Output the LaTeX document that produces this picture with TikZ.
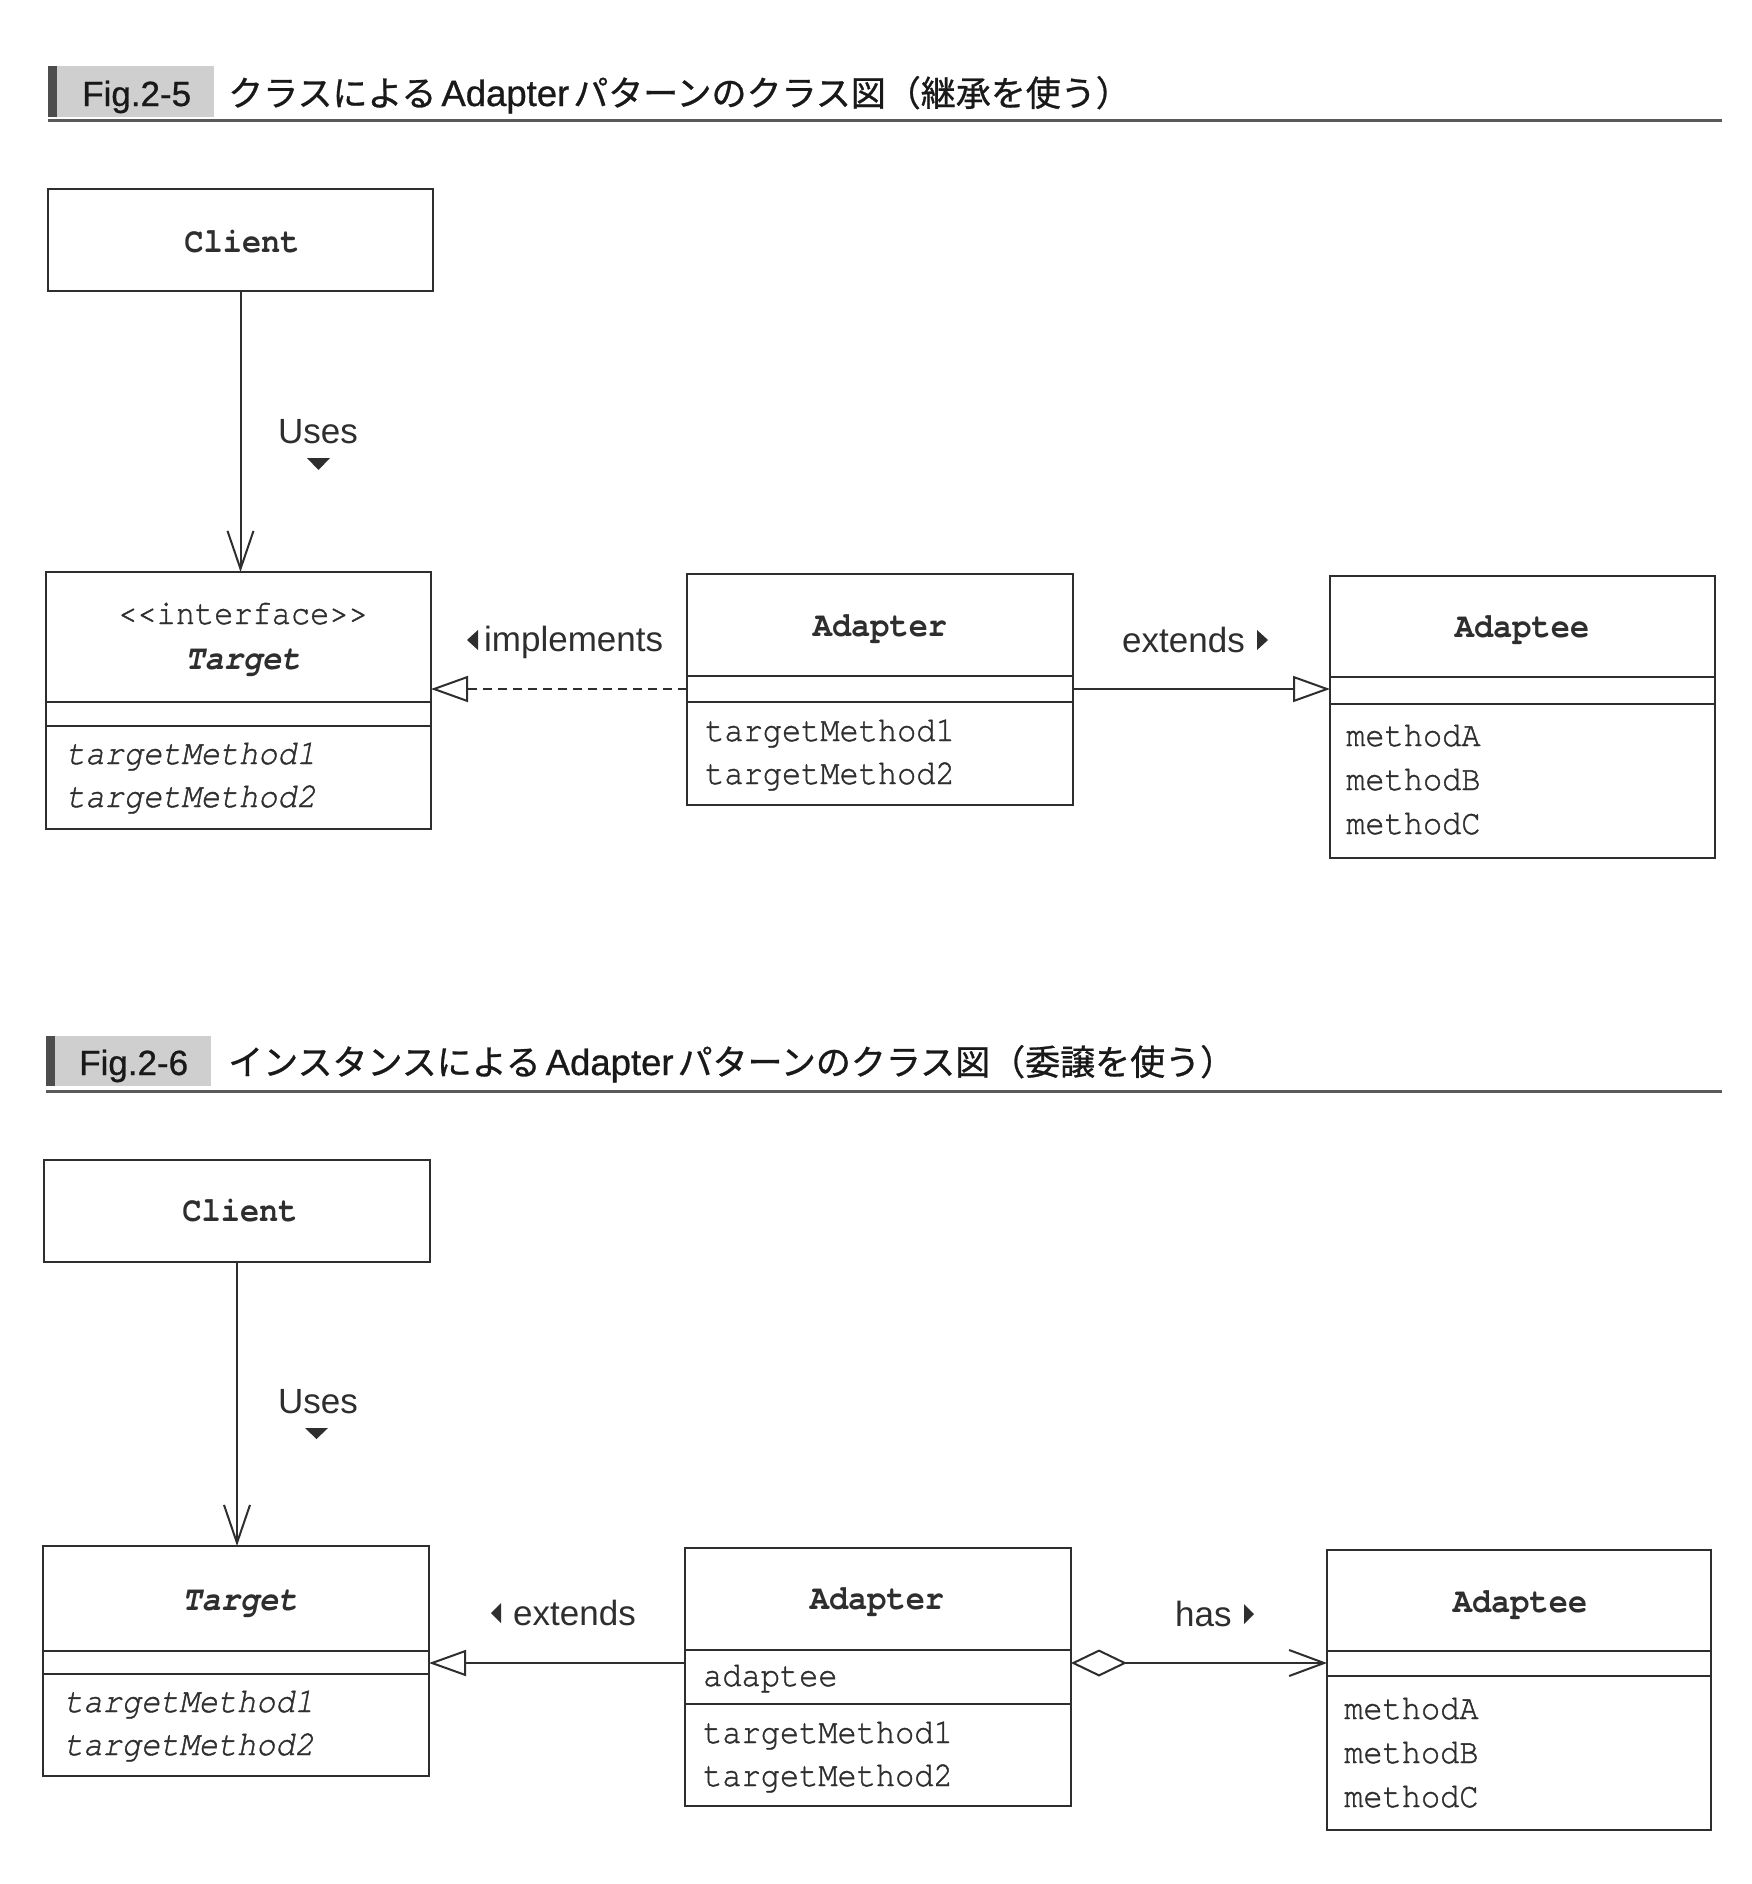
\documentclass[tikz,border=0pt]{standalone}
\usepackage{fontspec}
\setmainfont{Liberation Sans}
\newfontfamily\cjk[FakeBold=0.8]{Noto Sans CJK JP}
\newfontfamily\hdrsans[FakeBold=0.8]{Liberation Sans}
\newfontfamily\cour[FakeStretch=0.914, FakeBold=1.2]{TeX Gyre Cursor}
\newfontfamily\courbold[FakeStretch=0.914]{TeX Gyre Cursor}
\usetikzlibrary{arrows.meta}
\definecolor{ink}{HTML}{2E2E2E}
\definecolor{hdrgray}{HTML}{CFCFCF}
\definecolor{hdrdark}{HTML}{4D4D4D}
\definecolor{rulegray}{HTML}{5A5A5A}
\begin{document}
\begin{tikzpicture}[x=1pt,y=-1pt,
  classbox/.style={draw=ink, line width=2pt, anchor=north west, inner sep=0pt, outer sep=0pt},
  divider/.style={draw=ink, line width=2pt},
  cname/.style={font=\fontsize{35}{40}\selectfont\courbold\bfseries, text=ink, anchor=base, inner sep=0pt},
  cnamei/.style={font=\fontsize{35}{40}\selectfont\courbold\bfseries\itshape, text=ink, anchor=base, inner sep=0pt},
  stereo/.style={font=\fontsize{35}{40}\selectfont\cour, text=ink, anchor=base, inner sep=0pt},
  member/.style={font=\fontsize{35}{40}\selectfont\cour, text=ink, anchor=base west, inner sep=0pt},
  memberi/.style={font=\fontsize{35}{40}\selectfont\cour\itshape, text=ink, anchor=base west, inner sep=0pt},
  lbl/.style={font=\fontsize{35}{40}\selectfont, text=ink, anchor=base west, inner sep=0pt},
  hdr/.style={font=\fontsize{35}{42}\selectfont\hdrsans, text=black!90, anchor=base west, inner sep=0pt},
  rule/.style={draw=rulegray, line width=3pt},
  conn/.style={draw=ink, line width=2pt},
  uses/.style={conn, -{Straight Barb[length=38pt, width=26pt]}},
  inherit/.style={conn, -{Triangle[open, length=37pt, width=26pt]}},
  realize/.style={inherit, dash pattern=on 9pt off 6pt},
  aggr/.style={conn, {Diamond[open, length=56pt, width=27pt]}-{Straight Barb[length=35pt, width=26pt]}}
]
\useasboundingbox (0,0) rectangle (1752,1884);
\fill[white] (0,0) rectangle (1752,1884);

% ---------- Fig.2-5 header ----------
\fill[hdrgray] (48,66) rectangle (214,117);
\fill[hdrdark] (48,66) rectangle (57,117);
\draw[rule] (48,120) -- (1722,120);
\node[hdr] (fig25) at (82,106) {Fig.2-5};
\node[hdr] (title25) at (228,106) {{\cjk クラスによる}\hspace{5pt}{\fontsize{36.5}{40}\selectfont Adapter}\hspace{4pt}{\cjk パターンのクラス図（継承を使う）}};

% ---------- Fig.2-5 classes ----------
\node[classbox, minimum width=385pt, minimum height=102pt] (client1) at (48,189) {};
\node[cname] (client1n) at (242,252) {Client};

\node[classbox, minimum width=385pt, minimum height=257pt] (target1) at (46,572) {};
\draw[divider] ([yshift=-130pt]target1.north west) -- ([yshift=-130pt]target1.north east);
\draw[divider] ([yshift=-154pt]target1.north west) -- ([yshift=-154pt]target1.north east);
\node[stereo] (target1s) at (243,624) {<\kern0pt<interface>\kern0pt>};
\node[cnamei] (target1n) at (243,669) {Target};
\node[memberi] (target1m1) at (66,764) {targetMethod1};
\node[memberi] (target1m2) at (66,807) {targetMethod2};

\node[classbox, minimum width=386pt, minimum height=231pt] (adapter1) at (687,574) {};
\draw[divider] ([yshift=-102pt]adapter1.north west) -- ([yshift=-102pt]adapter1.north east);
\draw[divider] ([yshift=-128pt]adapter1.north west) -- ([yshift=-128pt]adapter1.north east);
\node[cname] (adapter1n) at (880,636) {Adapter};
\node[member] (adapter1m1) at (705,741) {targetMethod1};
\node[member] (adapter1m2) at (705,784) {targetMethod2};

\node[classbox, minimum width=385pt, minimum height=282pt] (adaptee1) at (1330,576) {};
\draw[divider] ([yshift=-101pt]adaptee1.north west) -- ([yshift=-101pt]adaptee1.north east);
\draw[divider] ([yshift=-128pt]adaptee1.north west) -- ([yshift=-128pt]adaptee1.north east);
\node[cname] (adaptee1n) at (1522,637) {Adaptee};
\node[member] (adaptee1m1) at (1346,746) {methodA};
\node[member] (adaptee1m2) at (1346,790) {methodB};
\node[member] (adaptee1m3) at (1346,834) {methodC};

% ---------- Fig.2-5 connectors ----------
\coordinate (r1) at (0,689);
\draw[uses] (client1.south) -- (client1.south |- target1.north);
\draw[realize] (adapter1.west |- r1) -- (target1.east |- r1);
\draw[inherit] (adapter1.east |- r1) -- (adaptee1.west |- r1);

\node[lbl] (uses1) at (278,443) {Uses};
\fill[ink] (307,458) -- (330,458) -- (318.5,470) -- cycle;
\node[lbl] (impl1) at (484,651) {implements};
\fill[ink] (478,630) -- (478,650) -- (467,640) -- cycle;
\node[lbl] (ext1) at (1122,652) {extends};
\fill[ink] (1257,630) -- (1257,650) -- (1268,640) -- cycle;

% ---------- Fig.2-6 header ----------
\fill[hdrgray] (46,1036) rectangle (211,1086);
\fill[hdrdark] (46,1036) rectangle (55,1086);
\draw[rule] (46,1091) -- (1722,1091);
\node[hdr] (fig26) at (79,1075) {Fig.2-6};
\node[hdr] (title26) at (228,1075) {{\cjk インスタンスによる}\hspace{5pt}{\fontsize{36.5}{40}\selectfont Adapter}\hspace{4pt}{\cjk パターンのクラス図（委譲を使う）}};

% ---------- Fig.2-6 classes ----------
\node[classbox, minimum width=386pt, minimum height=102pt] (client2) at (44,1160) {};
\node[cname] (client2n) at (240,1221) {Client};

\node[classbox, minimum width=386pt, minimum height=230pt] (target2) at (43,1546) {};
\draw[divider] ([yshift=-105pt]target2.north west) -- ([yshift=-105pt]target2.north east);
\draw[divider] ([yshift=-128pt]target2.north west) -- ([yshift=-128pt]target2.north east);
\node[cnamei] (target2n) at (240,1610) {Target};
\node[memberi] (target2m1) at (64,1712) {targetMethod1};
\node[memberi] (target2m2) at (64,1755) {targetMethod2};

\node[classbox, minimum width=386pt, minimum height=258pt] (adapter2) at (685,1548) {};
\draw[divider] ([yshift=-102pt]adapter2.north west) -- ([yshift=-102pt]adapter2.north east);
\draw[divider] ([yshift=-156pt]adapter2.north west) -- ([yshift=-156pt]adapter2.north east);
\node[cname] (adapter2n) at (877,1609) {Adapter};
\node[member] (adapter2a) at (703,1686) {adaptee};
\node[member] (adapter2m1) at (703,1743) {targetMethod1};
\node[member] (adapter2m2) at (703,1786) {targetMethod2};

\node[classbox, minimum width=384pt, minimum height=280pt] (adaptee2) at (1327,1550) {};
\draw[divider] ([yshift=-101pt]adaptee2.north west) -- ([yshift=-101pt]adaptee2.north east);
\draw[divider] ([yshift=-126pt]adaptee2.north west) -- ([yshift=-126pt]adaptee2.north east);
\node[cname] (adaptee2n) at (1520,1612) {Adaptee};
\node[member] (adaptee2m1) at (1344,1719) {methodA};
\node[member] (adaptee2m2) at (1344,1763) {methodB};
\node[member] (adaptee2m3) at (1344,1807) {methodC};

% ---------- Fig.2-6 connectors ----------
\coordinate (r2) at (0,1663);
\draw[uses] (client2.south) -- (client2.south |- target2.north);
\draw[inherit] (adapter2.west |- r2) -- (target2.east |- r2);
\draw[aggr] (adapter2.east |- r2) -- (adaptee2.west |- r2);

\node[lbl] (uses2) at (278,1413) {Uses};
\fill[ink] (305,1428) -- (328,1428) -- (316.5,1439) -- cycle;
\node[lbl] (ext2) at (513,1625) {extends};
\fill[ink] (501,1603) -- (501,1623) -- (491,1613) -- cycle;
\node[lbl] (has2) at (1175,1626) {has};
\fill[ink] (1244,1604) -- (1244,1624) -- (1254,1614) -- cycle;
\end{tikzpicture}
\end{document}
